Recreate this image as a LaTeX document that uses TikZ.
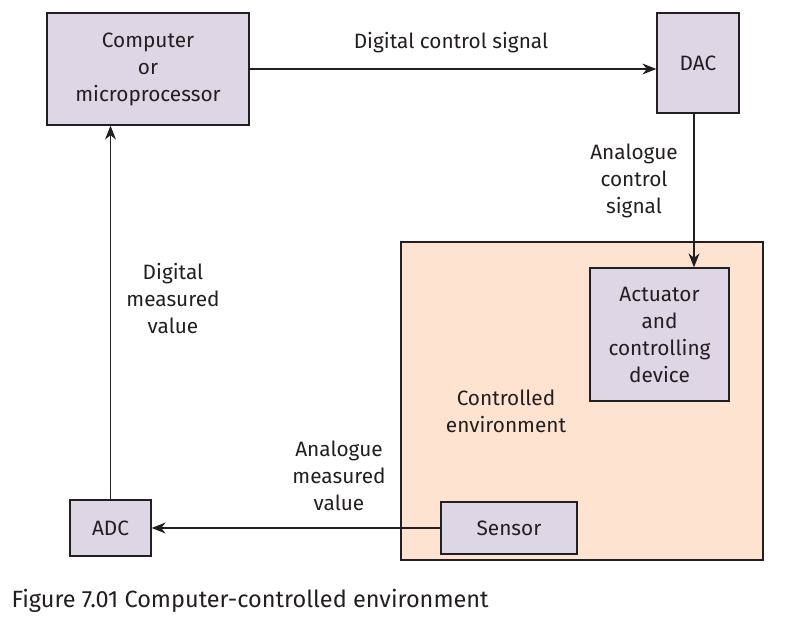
\documentclass[tikz,border=0pt]{standalone}
\usepackage{fontspec}
\setmainfont{Fira Sans}
\usepackage{xcolor}
\usepackage{tikz}
\usetikzlibrary{arrows.meta,positioning,calc}
\definecolor{inkc}{HTML}{231F20}
\definecolor{boxc}{HTML}{DCD6E5}
\definecolor{envc}{HTML}{FEE3D1}
\tikzset{
  unit/.style = {draw = inkc, fill = boxc, line width = 1.3pt, align = center, inner sep = 0pt, text = inkc, font = \fontsize{20.8}{27}\selectfont},
  sig/.style = {-{Stealth[length = 14pt, width = 11pt]}, line width = 1.1pt, draw = inkc},
  lbl/.style = {align = center, text = inkc, font = \fontsize{20.8}{27}\selectfont}
}

\begin{document}
\begin{tikzpicture}[x = 1pt, y = -1pt]
  \useasboundingbox (0,0) rectangle (789,622);
  \node[draw = inkc, fill = envc, line width = 1.3pt, minimum width = 362pt, minimum height = 318pt, inner sep = 0pt] (env) at (582,401) {};
  \node[unit, minimum width = 202pt, minimum height = 112pt] (cpu) at (148,69) {Computer\\or\\microprocessor};
  \node[unit, minimum width = 82pt, minimum height = 100pt] (dac) at (698,63) {DAC};
  \node[unit, minimum width = 139pt, minimum height = 133pt] (act) at (659.5,334.5) {Actuator\\and\\controlling\\device};
  \node[unit, minimum width = 136pt, minimum height = 52pt] (sensor) at (509,528) {Sensor};
  \node[unit, minimum width = 81pt, minimum height = 56pt] (adc) at (110.5,528) {ADC};
  \draw[sig] (cpu.east |- 0,69) -- (dac.west |- 0,69);
  \draw[sig] (dac.south -| 694,0) -- (act.north -| 694,0);
  \draw[sig] (sensor.west) -- (adc.east);
  \draw[sig] (adc.north) -- (cpu.south -| adc.north);
  \node[lbl] at (451,43) {Digital control signal};
  \node[lbl] at (634,181) {Analogue\\control\\signal};
  \node[lbl] at (506,411) {Controlled\\environment};
  \node[lbl] at (339,476) {Analogue\\measured\\value};
  \node[lbl] at (173,299) {Digital\\measured\\value};
  \node[lbl, anchor = west, font = \fontsize{23.5}{28}\selectfont] at (8,601) {Figure 7.01 Computer-controlled environment};
\end{tikzpicture}
\end{document}
